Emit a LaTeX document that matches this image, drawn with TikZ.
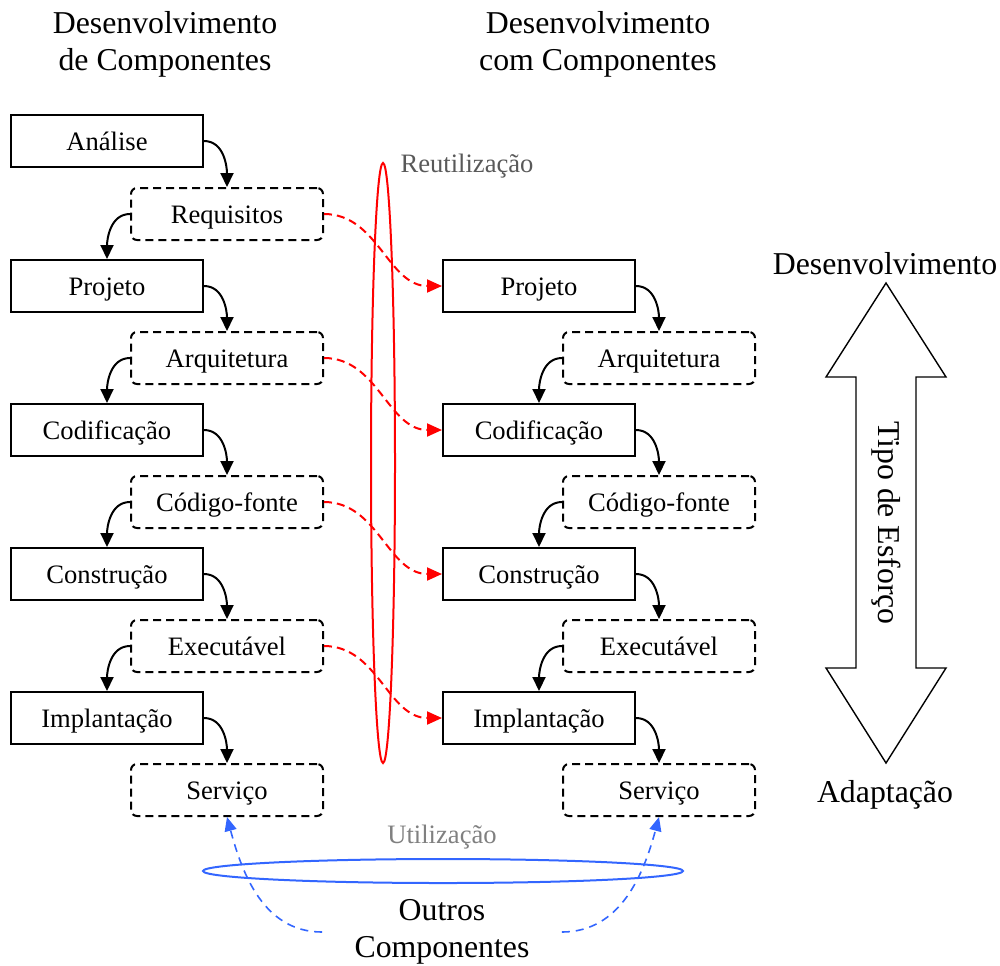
\documentclass[tikz,border=0pt]{standalone}
\usepackage{fontspec}
\setmainfont{Liberation Serif}
\usetikzlibrary{arrows.meta}
\definecolor{useblue}{HTML}{3366FF}
\begin{document}
\begin{tikzpicture}[x=0.5pt,y=-0.5pt,
  boxfont/.style={font=\fontsize{13.3}{16}\selectfont},
  bigfont/.style={font=\fontsize{15.9}{18.5}\selectfont},
  solidbox/.style={boxfont,draw,line width=1pt,minimum width=96pt,minimum height=26pt,inner sep=0pt,
    text height=9.5pt,text depth=0.5pt},
  dashbox/.style={solidbox,rounded corners=3pt,dash pattern=on 4pt off 2.5pt},
  flow/.style={line width=1pt,-{Triangle[length=7pt,width=6.5pt]}},
  reuse/.style={red,line width=1pt,dash pattern=on 4pt off 2.5pt,-{Triangle[length=7.5pt,width=6.5pt]}},
  usage/.style={useblue,line width=0.8pt,dash pattern=on 4pt off 3pt,-{Triangle[length=7pt,width=6pt]}},
]
\useasboundingbox (0,0) rectangle (1000,965);

% column headings
\node[bigfont,align=center] (hleft) at (165,44) {Desenvolvimento\\de Componentes};
\node[bigfont,align=center] (hright) at (598,44) {Desenvolvimento\\com Componentes};

% development of components (left column)
\node[solidbox] (la) at (107,141) {Análise};
\node[dashbox]  (lr) at (227,214) {Requisitos};
\node[solidbox] (lp) at (107,286) {Projeto};
\node[dashbox]  (lq) at (227,358) {Arquitetura};
\node[solidbox] (lc) at (107,430) {Codificação};
\node[dashbox]  (lf) at (227,502) {Código-fonte};
\node[solidbox] (lb) at (107,574) {Construção};
\node[dashbox]  (le) at (227,646) {Executável};
\node[solidbox] (li) at (107,718) {Implantação};
\node[dashbox]  (ls) at (227,790) {Serviço};

% development with components (right column)
\node[solidbox] (rp) at (539,286) {Projeto};
\node[dashbox]  (rq) at (659,358) {Arquitetura};
\node[solidbox] (rc) at (539,430) {Codificação};
\node[dashbox]  (rf) at (659,502) {Código-fonte};
\node[solidbox] (rb) at (539,574) {Construção};
\node[dashbox]  (re) at (659,646) {Executável};
\node[solidbox] (ri) at (539,718) {Implantação};
\node[dashbox]  (rs) at (659,790) {Serviço};

% step-to-artifact connectors
\foreach \s/\a in {la/lr,lp/lq,lc/lf,lb/le,li/ls,rp/rq,rc/rf,rb/re,ri/rs}
  \draw[flow] (\s.east) to[out=0,in=90] (\a.north);
\foreach \a/\s in {lr/lp,lq/lc,lf/lb,le/li,rq/rc,rf/rb,re/ri}
  \draw[flow] (\a.west) to[out=180,in=90] (\s.north);

% reuse band
\draw[red,line width=1pt] (383,463) ellipse [x radius=6pt,y radius=150pt];
\node[boxfont,text=black!65,anchor=base] (reuselbl) at (467,172) {Reutilização};
\foreach \a/\s in {lr/rp,lq/rc,lf/rb,le/ri}
  \draw[reuse] (\a.east) to[out=0,in=180] (\s.west);

% usage band
\draw[useblue,line width=1pt] (443,871) ellipse [x radius=120pt,y radius=6pt];
\node[boxfont,text=black!50,anchor=base] (uselbl) at (442,843) {Utilização};
\node[bigfont,align=center,inner xsep=16pt,inner ysep=0pt] (oc) at (442,932) {Outros\\Componentes};
\draw[usage] (oc.west) to[out=180,in=-75] (ls.south);
\draw[usage] (oc.east) to[out=0,in=-105] (rs.south);

% effort scale
\draw[line width=0.7pt] (886,283) -- (946,377) -- (916,377) -- (916,668) -- (946,668)
  -- (886,763) -- (826,668) -- (856,668) -- (856,377) -- (826,377) -- cycle;
\node[bigfont,rotate=-90] (effort) at (886,523) {Tipo de Esforço};
\node[bigfont] (devlbl) at (885,264) {Desenvolvimento};
\node[bigfont,anchor=base] (adlbl) at (885,802) {Adaptação};
\end{tikzpicture}
\end{document}
